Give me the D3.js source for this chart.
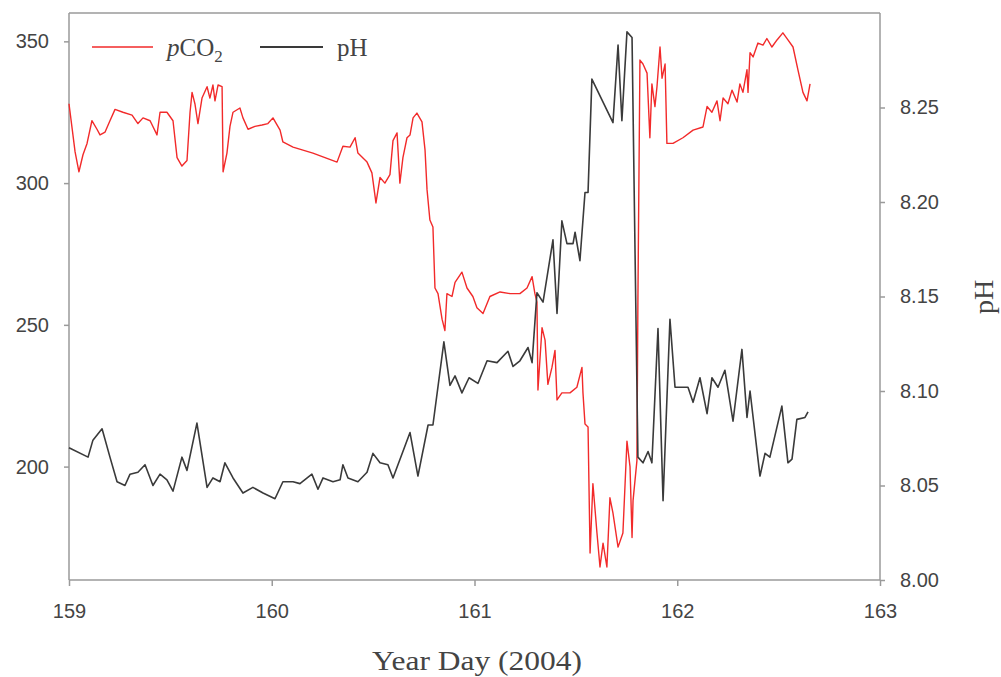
<!DOCTYPE html>
<html>
<head>
<meta charset="utf-8">
<script src="https://cdn.jsdelivr.net/npm/d3@7"></script>
<style>
  body { margin: 0; background: #fff; }
  .tick text { font-family: "Liberation Sans", Arial, sans-serif; font-size: 20px; fill: #444; }
  .axis path, .axis line { stroke: #9a9a9a; stroke-width: 1.5; }
</style>
</head>
<body>
<svg width="1001" height="677"></svg>
<script>
// pCO2 (left axis)
var co2Days = [159.000,159.030,159.049,159.069,159.089,159.113,159.138,159.153,159.178,159.202,159.227,159.266,159.311,159.340,159.365,159.400,159.434,159.449,159.483,159.513,159.533,159.557,159.582,159.597,159.607,159.621,159.636,159.656,159.681,159.695,159.710,159.720,159.735,159.755,159.760,159.779,159.794,159.809,159.843,159.858,159.883,159.917,159.952,159.981,160.006,160.041,160.055,160.105,160.203,160.322,160.351,160.386,160.411,160.425,160.470,160.494,160.514,160.534,160.558,160.583,160.598,160.618,160.632,160.647,160.667,160.682,160.697,160.716,160.741,160.756,160.766,160.780,160.795,160.805,160.820,160.840,160.854,160.864,160.889,160.904,160.938,160.963,160.992,161.012,161.042,161.076,161.126,161.175,161.224,161.259,161.284,161.298,161.308,161.313,161.333,161.348,161.362,161.382,161.397,161.407,161.431,161.471,161.505,161.530,161.535,161.545,161.560,161.570,161.584,161.604,161.619,161.634,161.653,161.668,161.683,161.708,161.732,161.752,161.767,161.777,161.782,161.801,161.806,161.816,161.831,161.851,161.865,161.875,161.890,161.900,161.915,161.925,161.940,161.949,161.979,162.028,162.078,162.127,162.147,162.171,162.196,162.211,162.226,162.250,162.270,162.295,162.309,162.324,162.344,162.349,162.359,162.374,162.398,162.423,162.442,162.467,162.492,162.521,162.546,162.571,162.595,162.620,162.640,162.655];
var co2Values = [328,311,304,310,314,322,319,317,318,322,326,325,324,321,323,322,317,325,325,322,309,306,308,325,332,328,321,330,334,330,334.6,329,334.6,334,304,310.6,320,325,326.5,323,319,320,320.5,321,323,318.7,314.5,312.7,310.6,307.4,313,312.7,316,310.6,307.4,303.6,293,302,300,303,315,317.7,300,309,316,317,323,324.7,321.6,311.7,297.6,287,284.5,263,261,252,248,261,260,265,268.6,263,260,256,254,260,261.6,261,261,263,267,261,258,227,249,244.6,229,235,241,223.5,226,226,228,235,226,215,214,169.5,194,176.6,164.6,173,164.6,189,183.6,171.6,176.6,209,200,175,188,202,259,343.4,342,338.8,316,335,327,334,348,337,342,314,314,316,318.7,319.8,327,325,329,322,330,328,332.8,328.6,335,332,340,332,346,344.5,349.4,348.7,351,348,350.5,353,350.5,348,340,332,329,335];

// pH (right axis)
var phDays = [159.000,159.094,159.118,159.163,159.202,159.237,159.276,159.301,159.340,159.375,159.414,159.449,159.483,159.513,159.557,159.582,159.631,159.681,159.710,159.745,159.769,159.809,159.858,159.907,159.957,160.016,160.055,160.105,160.139,160.198,160.228,160.253,160.302,160.337,160.351,160.376,160.425,160.470,160.499,160.534,160.573,160.598,160.682,160.721,160.771,160.795,160.849,160.879,160.904,160.938,160.973,161.017,161.062,161.111,161.165,161.190,161.224,161.264,161.284,161.308,161.338,161.387,161.407,161.431,161.456,161.486,161.496,161.520,161.545,161.560,161.579,161.683,161.708,161.727,161.752,161.777,161.806,161.831,161.856,161.875,161.905,161.930,161.964,161.989,162.028,162.053,162.078,162.112,162.147,162.171,162.201,162.235,162.275,162.319,162.344,162.359,162.408,162.433,162.457,162.516,162.546,162.566,162.590,162.630,162.645];
var phValues = [8.070,8.065,8.074,8.080,8.065,8.052,8.050,8.056,8.057,8.061,8.050,8.056,8.053,8.047,8.065,8.058,8.083,8.049,8.054,8.052,8.062,8.054,8.046,8.049,8.046,8.043,8.052,8.052,8.051,8.056,8.048,8.054,8.052,8.053,8.061,8.054,8.052,8.057,8.067,8.062,8.061,8.054,8.078,8.055,8.082,8.082,8.126,8.103,8.108,8.099,8.107,8.104,8.116,8.115,8.121,8.113,8.116,8.123,8.115,8.152,8.147,8.180,8.141,8.190,8.178,8.178,8.184,8.169,8.205,8.205,8.265,8.242,8.283,8.243,8.290,8.287,8.065,8.062,8.068,8.062,8.133,8.042,8.138,8.102,8.102,8.102,8.094,8.107,8.088,8.107,8.102,8.111,8.084,8.122,8.086,8.100,8.055,8.067,8.065,8.092,8.062,8.064,8.085,8.086,8.089];

var dayTicks = [159, 160, 161, 162, 163];
var co2Ticks = [200, 250, 300, 350];
var phTicks = [8.00, 8.05, 8.10, 8.15, 8.20, 8.25];

var svg = d3.select('svg');
var margin = {t: 13, r: 121, b: 97, l: 69};
var width = 1001 - margin.l - margin.r;
var height = 677 - margin.t - margin.b;

var serif = '"Liberation Serif", "Times New Roman", serif';

var g = svg.append('g').attr('transform', 'translate(' + [margin.l, margin.t] + ')');

var xScale = d3.scaleLinear().domain([159, 163]).range([0, width]);
var yLeft = d3.scaleLinear().domain([160, 360]).range([height, 0]);
var yRight = d3.scaleLinear().domain([8.00, 8.30]).range([height, 0]);

// frame top line
g.append('line')
    .attr('x1', 0).attr('x2', width).attr('y1', 0).attr('y2', 0)
    .style('stroke', '#9a9a9a').style('stroke-width', 1.5);

g.append('g')
    .attr('class', 'axis')
    .attr('transform', 'translate(0,' + height + ')')
    .call(d3.axisBottom(xScale).tickValues(dayTicks).tickSize(6).tickPadding(18).tickFormat(d3.format('d')))
    .call(function(s) { s.select('.domain').attr('d', 'M0,0H' + width); });

g.append('g')
    .attr('class', 'axis')
    .call(d3.axisLeft(yLeft).tickValues(co2Ticks).tickSize(5).tickPadding(15).tickFormat(d3.format('d')))
    .call(function(s) { s.select('.domain').attr('d', 'M0,0V' + height); });

g.append('g')
    .attr('class', 'axis')
    .attr('transform', 'translate(' + width + ',0)')
    .call(d3.axisRight(yRight).tickValues(phTicks).tickSize(5).tickPadding(15).tickFormat(d3.format('.2f')))
    .call(function(s) { s.select('.domain').attr('d', 'M0,0V' + height); });

var co2Line = d3.line()
    .x(function(d, i) { return xScale(co2Days[i]); })
    .y(function(d) { return yLeft(d); });

var phLine = d3.line()
    .x(function(d, i) { return xScale(phDays[i]); })
    .y(function(d) { return yRight(d); });

g.append('path')
    .datum(co2Values)
    .attr('d', co2Line)
    .style('fill', 'none')
    .style('stroke', '#f22a2a')
    .style('stroke-width', 1.4)
    .style('stroke-linejoin', 'round');

g.append('path')
    .datum(phValues)
    .attr('d', phLine)
    .style('fill', 'none')
    .style('stroke', '#3a3a3a')
    .style('stroke-width', 1.6)
    .style('stroke-linejoin', 'round');

// legend
var legend = g.append('g').attr('transform', 'translate(23,34)');
legend.append('line').attr('x1', 0).attr('x2', 61).attr('y1', 0).attr('y2', 0)
    .style('stroke', '#f22a2a').style('stroke-width', 1.6);
var t1 = legend.append('text').attr('x', 75).attr('y', 9)
    .style('font-family', serif)
    .style('font-size', '25px').style('fill', '#444');
t1.append('tspan').style('font-style', 'italic').text('p');
t1.append('tspan').text('CO');
t1.append('tspan').attr('dy', 6).style('font-size', '17px').text('2');

legend.append('line').attr('x1', 168).attr('x2', 231).attr('y1', 0).attr('y2', 0)
    .style('stroke', '#3a3a3a').style('stroke-width', 1.8);
legend.append('text').attr('x', 245).attr('y', 9)
    .style('font-family', serif)
    .style('font-size', '25px').style('fill', '#444')
    .text('pH');

// axis titles
svg.append('text')
    .attr('x', 477)
    .attr('y', 670)
    .attr('text-anchor', 'middle')
    .attr('textLength', 210)
    .attr('lengthAdjust', 'spacingAndGlyphs')
    .style('font-family', serif)
    .style('font-size', '27px').style('fill', '#444')
    .text('Year Day (2004)');

svg.append('text')
    .attr('transform', 'translate(993,297) rotate(-90)')
    .attr('text-anchor', 'middle')
    .style('font-family', serif)
    .style('font-size', '28px').style('fill', '#444')
    .text('pH');
</script>
</body>
</html>
